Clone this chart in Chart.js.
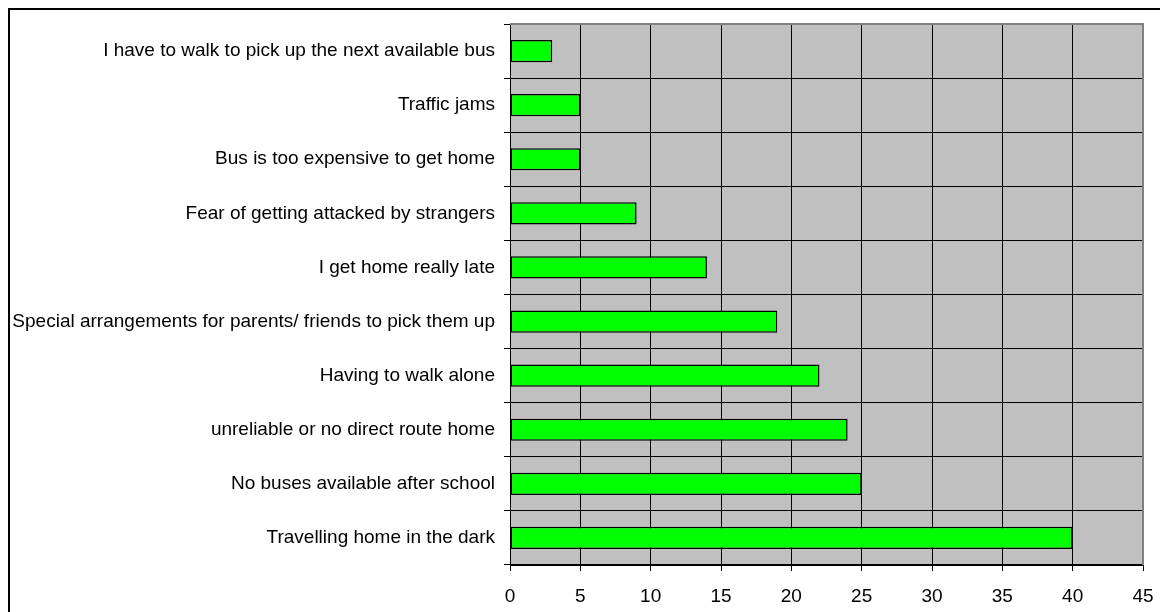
<!DOCTYPE html>
<html>
<head>
<meta charset="utf-8">
<script src="https://cdn.jsdelivr.net/npm/chart.js@4/dist/chart.umd.min.js"></script>
<style>
    html, body { margin: 0; padding: 0; background: #fff; }
    #wrap { width: 1160px; height: 612px; position: relative; }
</style>
</head>
<body>
<div id="wrap"><canvas id="myChart" width="1160" height="612"></canvas></div>
<script>
const categories = [
    'I have to walk to pick up the next available bus',
    'Traffic jams',
    'Bus is too expensive to get home',
    'Fear of getting attacked by strangers',
    'I get home really late',
    'Special arrangements for parents/ friends to pick them up',
    'Having to walk alone',
    'unreliable or no direct route home',
    'No buses available after school',
    'Travelling home in the dark'
];
const counts = [3, 5, 5, 9, 14, 19, 22, 24, 25, 40];
const xMin = 0;
const xMax = 45;
const xStep = 5;

const fontFamily = 'Arial, "Liberation Sans", sans-serif';

// grey plot background, grey top/right edge, outer frame
const framePlugin = {
    id: 'frame',
    beforeDraw(chart) {
        const c = chart.ctx;
        const a = chart.chartArea;
        c.save();
        c.fillStyle = '#fff';
        c.fillRect(0, 0, chart.width, chart.height);
        c.fillStyle = '#c0c0c0';
        c.fillRect(a.left, a.top, a.right - a.left, a.bottom - a.top);
        c.strokeStyle = '#000';
        c.lineWidth = 2;
        c.beginPath();
        c.moveTo(9, chart.height + 5);
        c.lineTo(9, 9);
        c.lineTo(chart.width + 5, 9);
        c.stroke();
        c.restore();
    },
    afterDraw(chart) {
        const c = chart.ctx;
        const a = chart.chartArea;
        c.save();
        c.strokeStyle = '#808080';
        c.lineWidth = 2;
        c.beginPath();
        c.moveTo(a.left, a.top);
        c.lineTo(a.right, a.top);
        c.lineTo(a.right, a.bottom);
        c.stroke();
        c.restore();
    }
};

const ctx = document.getElementById('myChart').getContext('2d');
new Chart(ctx, {
    type: 'bar',
    data: {
        labels: categories,
        datasets: [{
            data: counts,
            backgroundColor: '#00ff00',
            borderColor: '#000',
            borderWidth: 1.5,
            borderSkipped: false,
            barPercentage: 0.41,
            categoryPercentage: 1
        }]
    },
    options: {
        indexAxis: 'y',
        responsive: false,
        animation: false,
        layout: { padding: { left: 10, top: 24, right: 17, bottom: 0 } },
        plugins: {
            legend: { display: false },
            tooltip: { enabled: false }
        },
        scales: {
            x: {
                min: xMin,
                max: xMax,
                ticks: {
                    stepSize: xStep,
                    color: '#000',
                    padding: 14,
                    font: { family: fontFamily, size: 19 }
                },
                grid: { color: '#000', tickLength: 6, lineWidth: 1 },
                border: { color: '#000', width: 1 },
                afterFit(scale) {
                    scale.height = 47;
                    scale.paddingLeft = 0;
                    scale.paddingRight = 0;
                }
            },
            y: {
                ticks: {
                    color: '#000',
                    padding: 9,
                    font: { family: fontFamily, size: 19 }
                },
                grid: { color: '#000', offset: true, tickLength: 6, lineWidth: 1 },
                border: { color: '#000', width: 1 },
                afterFit(scale) {
                    scale.width = 500;
                    scale.paddingTop = 0;
                    scale.paddingBottom = 0;
                }
            }
        }
    },
    plugins: [framePlugin]
});
</script>
</body>
</html>
